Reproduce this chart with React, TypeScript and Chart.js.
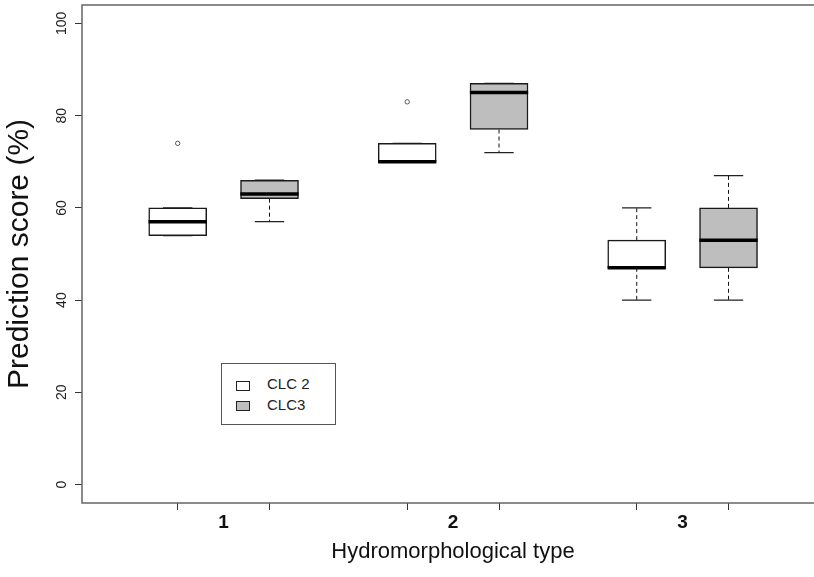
import React, { useEffect, useRef } from 'react';
import { Chart, registerables } from 'chart.js';

Chart.register(...registerables);

// ---- data ----
const CATEGORIES = ['1', '2', '3'];
const SERIES_NAMES = ['CLC 2', 'CLC3'];
const Y_TICKS = [0, 20, 40, 60, 80, 100];

const CLC2_MIN = [54, 70, 40];
const CLC2_Q1 = [54, 70, 47];
const CLC2_MEDIAN = [57, 70, 47];
const CLC2_Q3 = [60, 74, 53];
const CLC2_MAX = [60, 74, 60];
const CLC2_OUTLIERS = [[74], [83], []];

const CLC3_MIN = [57, 72, 40];
const CLC3_Q1 = [62, 77, 47];
const CLC3_MEDIAN = [63, 85, 53];
const CLC3_Q3 = [66, 87, 60];
const CLC3_MAX = [66, 87, 67];
const CLC3_OUTLIERS = [[], [], []];

// ---- layout / style ----
const W = 814;
const H = 577;
const CANVAS_W = 829; // plot region runs past the right edge of the picture
const X_MIN = 0.383;
const X_MAX = 3.616;
const Y_MIN = -4;
const Y_MAX = 104;
const SERIES_OFFSET = [-0.2, 0.2];
const SERIES_FILL = ['#ffffff', '#bebebe'];
const BOX_HALF = 0.127;
const CAP_HALF = 0.064;
const FONT = "'Liberation Sans', Arial, Helvetica, sans-serif";

const SERIES = [
  { name: SERIES_NAMES[0], min: CLC2_MIN, q1: CLC2_Q1, med: CLC2_MEDIAN, q3: CLC2_Q3, max: CLC2_MAX, out: CLC2_OUTLIERS },
  { name: SERIES_NAMES[1], min: CLC3_MIN, q1: CLC3_Q1, med: CLC3_MEDIAN, q3: CLC3_Q3, max: CLC3_MAX, out: CLC3_OUTLIERS },
];

const posOf = (seriesIdx: number, catIdx: number) => catIdx + 1 + SERIES_OFFSET[seriesIdx];

function buildDatasets() {
  const ds: any[] = [];
  SERIES.forEach((s, si) => {
    const xs = CATEGORIES.map((_, i) => posOf(si, i));
    const med: any[] = [];
    xs.forEach((x, i) => {
      med.push({ x: x - BOX_HALF, y: s.med[i] }, { x: x + BOX_HALF, y: s.med[i] }, { x, y: null });
    });
    ds.push({
      type: 'scatter', label: s.name + ' median', data: med, showLine: true, spanGaps: false,
      borderColor: '#000000', borderWidth: 3.5, pointRadius: 0, order: 1,
    });
    const caps: any[] = [];
    xs.forEach((x, i) => {
      caps.push({ x: x - CAP_HALF, y: s.max[i] }, { x: x + CAP_HALF, y: s.max[i] }, { x, y: null });
      caps.push({ x: x - CAP_HALF, y: s.min[i] }, { x: x + CAP_HALF, y: s.min[i] }, { x, y: null });
    });
    ds.push({
      type: 'scatter', label: s.name + ' caps', data: caps, showLine: true, spanGaps: false,
      borderColor: '#222222', borderWidth: 1.3, pointRadius: 0, order: 6,
    });
    const wh: any[] = [];
    xs.forEach((x, i) => {
      wh.push({ x, y: s.q3[i] }, { x, y: s.max[i] }, { x, y: null });
      wh.push({ x, y: s.q1[i] }, { x, y: s.min[i] }, { x, y: null });
    });
    ds.push({
      type: 'scatter', label: s.name + ' whiskers', data: wh, showLine: true, spanGaps: false,
      borderColor: '#111111', borderWidth: 1, borderDash: [4, 3], pointRadius: 0, order: 7,
    });
    const outs: any[] = [];
    xs.forEach((x, i) => s.out[i].forEach((v) => outs.push({ x, y: v })));
    ds.push({
      type: 'scatter', label: s.name + ' outliers', data: outs, showLine: false,
      pointRadius: 2.2, pointStyle: 'circle', pointBackgroundColor: '#ffffff',
      pointBorderColor: '#555555', pointBorderWidth: 1, order: 2,
    });
    ds.push({
      type: 'bar', label: s.name, data: xs.map((x, i) => ({ x, y: [s.q1[i], s.q3[i]] })),
      backgroundColor: SERIES_FILL[si], borderColor: '#1a1a1a', borderWidth: 1.5,
      borderSkipped: false, barThickness: 58, grouped: false, order: 5,
    });
  });
  return ds;
}

const X_TICK_VALUES = (() => {
  const v: number[] = [];
  CATEGORIES.forEach((_, i) => {
    SERIES.forEach((__, si) => v.push(posOf(si, i)));
    v.push(i + 1);
  });
  return v.sort((a, b) => a - b);
})();

const isCat = (v: number) => CATEGORIES.findIndex((_, i) => Math.abs(v - (i + 1)) < 1e-6);

const framePlugin = {
  id: 'frame',
  afterDraw(chart: any) {
    const { ctx, chartArea } = chart;
    const { left, top, right, bottom } = chartArea;
    ctx.save();
    ctx.strokeStyle = '#666666';
    ctx.lineWidth = 1.5;
    ctx.beginPath();
    ctx.moveTo(right + 4, top);
    ctx.lineTo(left, top);
    ctx.lineTo(left, bottom);
    ctx.lineTo(right + 4, bottom);
    ctx.stroke();
    ctx.restore();
  },
};

export default function App() {
  const ref = useRef<HTMLCanvasElement>(null);
  useEffect(() => {
    if (!ref.current) return;
    const chart = new Chart(ref.current, {
      type: 'scatter',
      data: { datasets: buildDatasets() },
      options: {
        responsive: false,
        maintainAspectRatio: false,
        animation: false,
        layout: { padding: { top: 5, right: 0, bottom: 0, left: 0 } },
        plugins: { legend: { display: false }, tooltip: { enabled: false } },
        scales: {
          x: {
            type: 'linear',
            min: X_MIN,
            max: X_MAX,
            offset: false,
            afterBuildTicks: (scale: any) => {
              scale.ticks = X_TICK_VALUES.map((v) => ({ value: v }));
            },
            afterFit: (scale: any) => {
              scale.height = 74;
              scale.paddingLeft = 0;
              scale.paddingRight = 0;
            },
            ticks: {
              autoSkip: false,
              maxRotation: 0,
              minRotation: 0,
              padding: 1,
              color: '#111111',
              font: { family: FONT, size: 19, weight: 'bold' },
              callback: (v: any) => {
                const i = isCat(Number(v));
                return i >= 0 ? CATEGORIES[i] : '';
              },
            },
            grid: {
              offset: false,
              drawOnChartArea: false,
              drawTicks: true,
              tickLength: 7,
              tickWidth: 1,
              tickColor: (ctx: any) => (ctx.tick && isCat(ctx.tick.value) >= 0 ? 'rgba(0,0,0,0)' : '#333333'),
            },
            border: { display: false },
            title: {
              display: true,
              text: 'Hydromorphological type',
              color: '#111111',
              font: { family: FONT, size: 22 },
              padding: { top: 0, bottom: 12 },
            },
          },
          y: {
            type: 'linear',
            min: Y_MIN,
            max: Y_MAX,
            afterBuildTicks: (scale: any) => {
              scale.ticks = Y_TICKS.map((v) => ({ value: v }));
            },
            afterFit: (scale: any) => {
              scale.width = 82;
              scale.paddingTop = 0;
              scale.paddingBottom = 0;
            },
            ticks: {
              minRotation: 90,
              maxRotation: 90,
              crossAlign: 'center',
              padding: 1,
              color: '#222222',
              font: { family: FONT, size: 14 },
            },
            grid: {
              drawOnChartArea: false,
              drawTicks: true,
              tickLength: 7,
              tickWidth: 1,
              tickColor: '#333333',
            },
            border: { display: false },
            title: {
              display: true,
              text: 'Prediction score (%)',
              color: '#111111',
              font: { family: FONT, size: 30 },
              padding: { top: 2, bottom: 0 },
            },
          },
        },
      } as any,
      plugins: [framePlugin],
    });
    return () => chart.destroy();
  }, []);

  const legendText: React.CSSProperties = {
    position: 'absolute', left: 45, fontFamily: FONT, fontSize: 15, color: '#222', lineHeight: '18px', whiteSpace: 'nowrap',
  };
  const swatch = (top: number, fill: string): React.CSSProperties => ({
    position: 'absolute', left: 14, top, width: 14, height: 10, boxSizing: 'border-box', border: '1px solid #222', background: fill,
  });

  return (
    <div style={{ position: 'absolute', left: 0, top: 0, width: W, height: H, background: '#fff', overflow: 'hidden' }}>
      <canvas ref={ref} width={CANVAS_W} height={H} style={{ display: 'block' }} />
      <div
        style={{
          position: 'absolute', left: 221, top: 363, width: 115, height: 62, boxSizing: 'border-box',
          border: '1px solid #555', background: '#fff',
        }}
      >
        <div style={swatch(17, SERIES_FILL[0])} />
        <div style={{ ...legendText, top: 11 }}>{SERIES_NAMES[0]}</div>
        <div style={swatch(37, SERIES_FILL[1])} />
        <div style={{ ...legendText, top: 32 }}>{SERIES_NAMES[1]}</div>
      </div>
    </div>
  );
}
